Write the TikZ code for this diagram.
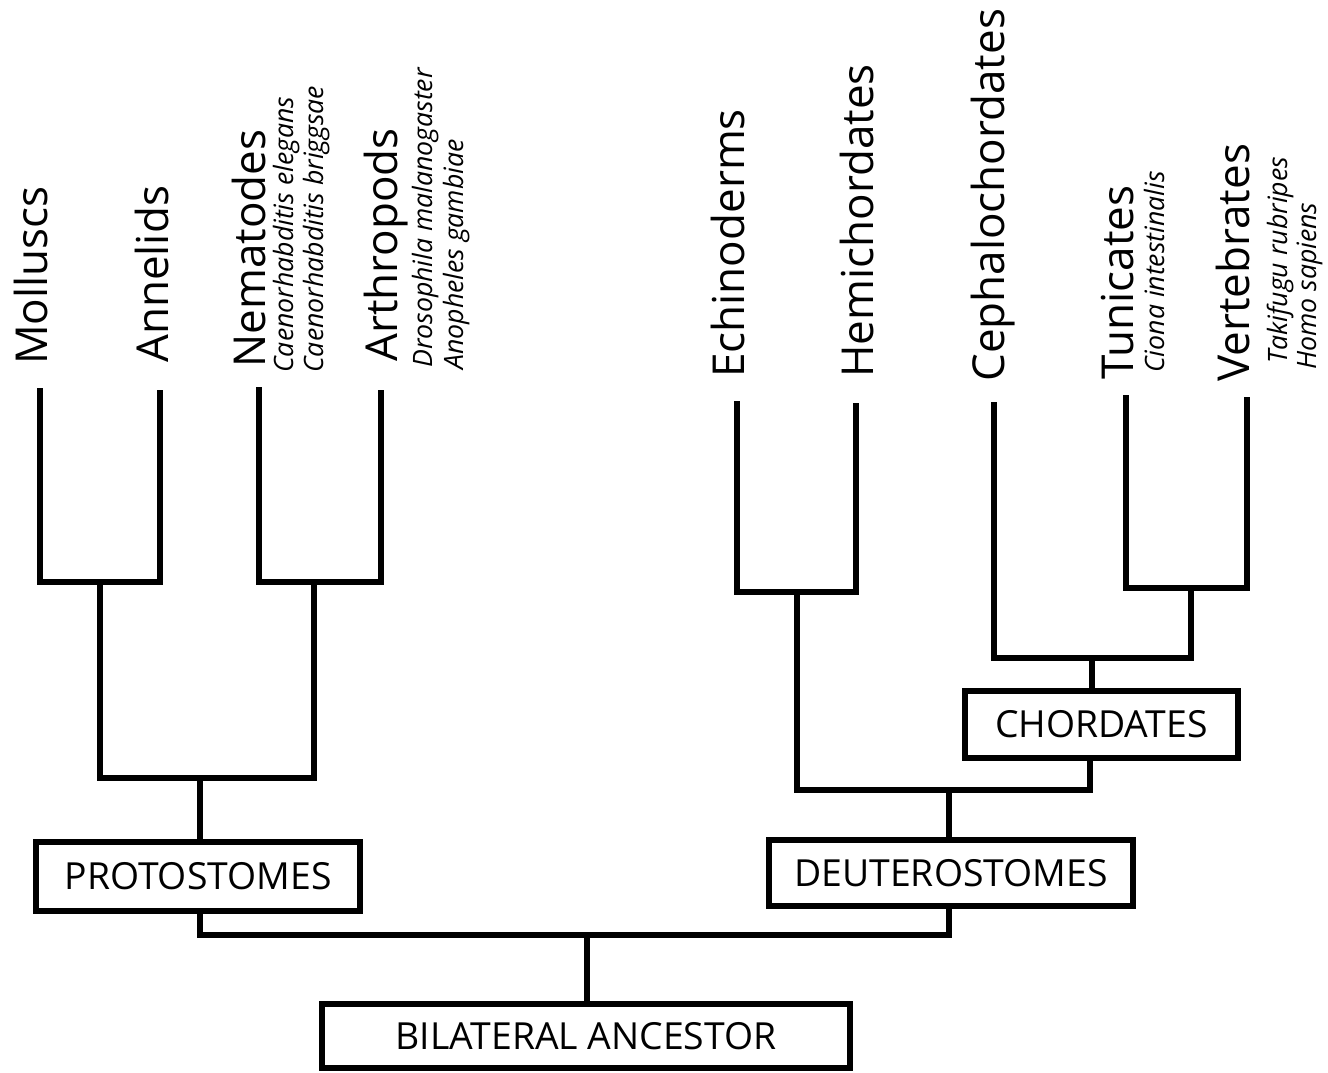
\documentclass[tikz,border=0pt]{standalone}
\usepackage{fontspec}
\setmainfont{Open Sans}
\begin{document}
\begin{tikzpicture}[x=0.75pt,y=-0.75pt,
  branch/.style={line width=4pt, line join=miter},
  box/.style={draw, line width=4pt, inner sep=0pt, font=\fontsize{28}{32}\selectfont},
  grp/.style={rotate=90, anchor=base west, inner sep=0pt, font=\fontsize{33}{38}\selectfont},
  sp/.style={rotate=90, anchor=base west, inner sep=0pt, font=\fontsize{20}{24}\selectfont\itshape}]

\useasboundingbox (0,0) rectangle (1328,1072);

% leaf labels
\node[grp] (mol) at (47,365) {Molluscs};
\node[grp] (ann) at (168,363) {Annelids};
\node[grp] (nem) at (265,368) {Nematodes};
\node[sp] (nem1) at (293,373) {Caenorhabditis elegans};
\node[sp] (nem2) at (323,373) {Caenorhabditis briggsae};
\node[grp] (art) at (397,362) {Arthropods};
\node[sp] (art1) at (432,368) {Drosophila malanogaster};
\node[sp] (art2) at (463,370) {Anopheles gambiae};
\node[grp] (ech) at (744,378) {Echinoderms};
\node[grp] (hem) at (873,378) {Hemichordates};
\node[grp] (cep) at (1004,382) {Cephalochordates};
\node[grp] (tun) at (1133,380) {Tunicates};
\node[sp] (tun1) at (1164,373) {Ciona intestinalis};
\node[grp] (ver) at (1249,382) {Vertebrates};
\node[sp] (ver1) at (1287,364) {Takifugu rubripes};
\node[sp] (ver2) at (1316,370) {Homo sapiens};

% clade boxes
\node[box, minimum width=243pt, minimum height=51.75pt] (pro) at (198,876.5) {PROTOSTOMES};
\node[box, minimum width=273pt, minimum height=49.5pt] (deu) at (951,873) {DEUTEROSTOMES};
\node[box, minimum width=204.75pt, minimum height=50.25pt] (cho) at (1101.5,724.5) {CHORDATES};
\node[box, minimum width=396pt, minimum height=48pt] (bil) at (586,1036) {BILATERAL ANCESTOR};

% leaf tips and junctions
\coordinate (tm) at (40,388);
\coordinate (ta) at (160,390);
\coordinate (tn) at (259,387);
\coordinate (tr) at (381,390);
\coordinate (te) at (737,401);
\coordinate (th) at (856,403);
\coordinate (tc) at (994,402);
\coordinate (tt) at (1126,395);
\coordinate (tv) at (1247,397);
\coordinate (jma) at (100,582);
\coordinate (jnr) at (314,582);
\coordinate (jpro) at (200,778);
\coordinate (jeh) at (797,592);
\coordinate (jtv) at (1191,588);
\coordinate (jcho) at (1092,658);
\coordinate (jcb) at (1090,760);
\coordinate (jdeu) at (949,790);
\coordinate (jroot) at (587,935);

% branches
\draw[branch] (tm) |- (jma) -| (ta);
\draw[branch] (tn) |- (jnr) -| (tr);
\draw[branch] (jma) |- (jpro) -| (jnr);
\draw[branch] (jpro) -- (jpro |- pro.north);
\draw[branch] (pro.south -| jpro) |- (jroot) -| (deu.south -| jdeu);
\draw[branch] (jroot) -- (jroot |- bil.north);
\draw[branch] (te) |- (jeh) -| (th);
\draw[branch] (jeh) |- (jdeu) -| (cho.south -| jcb);
\draw[branch] (jdeu) -- (jdeu |- deu.north);
\draw[branch] (tt) |- (jtv) -| (tv);
\draw[branch] (tc) |- (jcho) -| (jtv);
\draw[branch] (jcho) -- (jcho |- cho.north);
\end{tikzpicture}
\end{document}
